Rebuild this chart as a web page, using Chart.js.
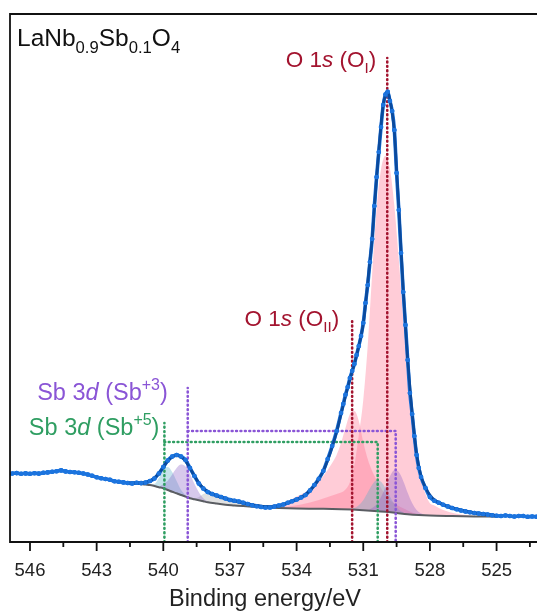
<!DOCTYPE html>
<html>
<head>
<meta charset="utf-8">
<script src="https://cdn.jsdelivr.net/npm/chart.js@4.4.1/dist/chart.umd.min.js"></script>
<style>
  html, body { margin: 0; padding: 0; background: #fff; }
  #wrap { width: 537px; height: 613px; position: relative; }
</style>
</head>
<body>
<div id="wrap"><canvas id="xpsChart"></canvas></div>
<script>
// measured spectrum (binding energy in eV, intensity in a.u.)
const measEnergy = [
  546.8, 546.6, 546.4, 546.2, 546.0, 545.8, 545.6, 545.4, 545.2, 545.0,
  544.8, 544.6, 544.4, 544.2, 544.0, 543.8, 543.6, 543.4, 543.2, 543.0,
  542.8, 542.6, 542.4, 542.2, 542.0, 541.8, 541.6, 541.4, 541.2, 541.0,
  540.8, 540.6, 540.4, 540.2, 540.0, 539.8, 539.6, 539.4, 539.2, 539.0,
  538.8, 538.6, 538.4, 538.2, 538.0, 537.8, 537.6, 537.4, 537.2, 537.0,
  536.8, 536.6, 536.4, 536.2, 536.0, 535.8, 535.6, 535.4, 535.2, 535.0,
  534.8, 534.6, 534.4, 534.2, 534.0, 533.8, 533.6, 533.4, 533.2, 533.0,
  532.8, 532.6, 532.4, 532.2, 532.0, 531.9, 531.8, 531.7, 531.6, 531.5,
  531.4, 531.3, 531.2, 531.1, 531.0, 530.9, 530.8, 530.7, 530.6, 530.5,
  530.4, 530.3, 530.2, 530.1, 530.0, 529.9, 529.8, 529.7, 529.6, 529.5,
  529.4, 529.3, 529.2, 529.1, 529.0, 528.9, 528.8, 528.7, 528.6, 528.5,
  528.4, 528.2, 528.0, 527.8, 527.6, 527.4, 527.2, 527.0, 526.8, 526.6,
  526.4, 526.2, 526.0, 525.8, 525.6, 525.4, 525.2, 525.0, 524.8, 524.6,
  524.4, 524.2, 524.0, 523.8, 523.6, 523.4, 523.2
];
const measCounts = [
  68.5, 68.9, 68.3, 68.6, 68.2, 68.8, 68.4, 69.2, 69.6, 70.3,
  70.8, 71.6, 70.6, 70.0, 69.8, 69.2, 68.5, 67.5, 66.2, 64.8,
  63.8, 63.0, 62.2, 60.8, 60.2, 59.6, 59.0, 58.6, 59.2, 58.9,
  59.5, 61.0, 63.5, 68.5, 75.0, 81.5, 85.5, 87.0, 85.5, 82.0,
  74.0, 66.0, 58.5, 53.5, 50.0, 48.0, 46.5, 45.0, 43.5, 42.0,
  41.2, 40.5, 39.2, 38.0, 36.7, 35.7, 35.0, 34.5, 34.5, 35.5,
  36.5, 37.5, 39.2, 40.8, 42.5, 44.5, 47.0, 51.5, 57.0, 63.3,
  71.0, 83.0, 96.0, 111, 129, 138, 147.3, 155, 164, 171,
  178, 187, 196, 206, 219, 239, 257, 280, 303, 336,
  365, 390, 415, 437, 447.5, 450.2, 441, 431, 412, 369,
  332, 289, 250, 217, 182, 149, 128, 106, 87, 74,
  65, 54, 45, 41.2, 39.2, 37.2, 35.6, 34.0, 32.7, 31.5,
  30.6, 29.8, 29.0, 28.5, 28.0, 27.5, 26.8, 26.3, 26.0, 26.5,
  26.0, 25.5, 26.0, 26.0, 25.2, 25.5, 25.3
];

// fitted envelope
const fitEnergy = [
  541.6, 541.4, 541.2, 541.0, 540.8, 540.6, 540.4, 540.2, 540.0, 539.8,
  539.6, 539.4, 539.2, 539.0, 538.8, 538.6, 538.4, 538.2, 538.0, 537.8,
  537.6, 537.4, 537.2, 537.0, 536.8, 536.6, 536.4, 536.2, 536.0, 535.8,
  535.6, 535.4, 535.2, 535.0, 534.8, 534.6, 534.4, 534.2, 534.0, 533.8,
  533.6, 533.4, 533.2, 533.0, 532.8, 532.6, 532.4, 532.2, 532.0, 531.8,
  531.6, 531.4, 531.2, 531.1, 531.0, 530.9, 530.8, 530.7, 530.6, 530.5,
  530.4, 530.3, 530.2, 530.1, 530.0, 529.9, 529.8, 529.7, 529.6, 529.5,
  529.4, 529.3, 529.2, 529.1, 529.0, 528.9, 528.8, 528.7, 528.6, 528.4,
  528.2, 528.0, 527.8, 527.6, 527.4, 527.2, 527.0, 526.8, 526.6, 526.4,
  526.2, 526.0, 525.8, 525.6, 525.4, 525.2, 525.0
];
const fitCounts = [
  59, 59, 59, 59, 59.5, 61, 64, 68.5, 75, 81,
  85, 86.5, 85, 81, 74, 66, 59, 54, 50.5, 48,
  46.2, 44.8, 43.5, 42.3, 41.2, 40.2, 39.2, 38.2, 37.3, 36.5,
  35.9, 35.5, 35.4, 35.7, 36.4, 37.5, 39, 40.7, 42.5, 44.8,
  47.5, 51.5, 56.5, 63, 71, 82, 95, 110, 128, 146,
  163, 178, 196, 206, 218, 237, 259, 281, 303, 334,
  364, 392, 417, 437, 447, 450, 442, 430, 410, 372,
  334, 292, 252, 216, 182, 154, 129, 107, 88, 66,
  54.5, 47, 42.2, 39.2, 37.2, 35.6, 34.2, 33, 31.8, 30.8,
  30, 29.2, 28.6, 28, 27.5, 27, 26.6
];

// background
const bgEnergy = [
  541.6, 541.2, 540.8, 540.6, 540.4, 540.2, 540.0, 539.8, 539.6, 539.4,
  539.2, 539.0, 538.8, 538.6, 538.4, 538.2, 538.0, 537.6, 537.2, 536.8,
  536.4, 536.0, 535.6, 535.2, 534.8, 534.4, 534.0, 533.0, 532.0, 531.5,
  531.0, 530.5, 530.0, 529.5, 529.0, 528.5, 528.0, 527.0, 526.0, 525.0
];
const bgCounts = [
  58.8, 58.2, 57.4, 57.0, 56.0, 54.8, 53.7, 52.0, 50.2, 48.7,
  47.0, 45.4, 43.7, 42.7, 41.7, 40.7, 39.7, 38.4, 37.3, 36.6,
  35.9, 35.3, 34.8, 34.4, 34.0, 33.7, 33.5, 33.2, 32.8, 32.4,
  31.8, 31.1, 30.2, 29.0, 27.8, 27.0, 26.5, 26.0, 25.6, 25.3
];

// O 1s components
const oIEnergy = [
  535.0, 534.6, 534.2, 533.8, 533.4, 533.0, 532.6, 532.2, 531.8, 531.6,
  531.4, 531.2, 531.0, 530.8, 530.6, 530.4, 530.2, 530.0, 529.8, 529.6,
  529.4, 529.2, 529.0, 528.8, 528.6, 528.4, 528.2, 528.0, 527.8, 527.6,
  527.4, 527.2, 527.0, 526.6, 526.2, 525.8
];
const oICounts = [
  34.4, 35, 36, 37.5, 39.5, 42, 45, 48, 52.5, 60,
  77, 107, 142, 196, 268, 333, 372.7, 386.2, 373.3, 336.3,
  282.2, 223.2, 168, 121.4, 86.6, 63, 48, 38.8, 36.5, 34,
  32, 30.5, 29.2, 27.5, 26.5, 25.7
];
const oIIEnergy = [
  534.8, 534.6, 534.4, 534.2, 534.0, 533.8, 533.6, 533.4, 533.2, 533.0,
  532.8, 532.6, 532.4, 532.2, 532.0, 531.8, 531.6, 531.4, 531.2, 531.0,
  530.8, 530.6, 530.4, 530.2, 530.0, 529.8, 529.6, 529.4, 529.2, 529.0,
  528.8, 528.6, 528.4
];
const oIICounts = [
  35.5, 38.5, 41, 43, 45.5, 47.5, 50, 52.5, 56, 61,
  66, 72, 79, 87, 99, 114, 128, 131, 121, 100,
  83, 71, 62, 54, 47, 42, 38.5, 36, 33.7, 31.5,
  29.5, 28, 27
];

// Sb 3d components (3d3/2 near 539 eV, 3d5/2 near 530 eV)
const sb5HighEnergy = [540.8, 540.6, 540.4, 540.2, 540.0, 539.8, 539.6, 539.4, 539.2, 539.0, 538.8, 538.6];
const sb5HighCounts = [57.4, 57.4, 58, 64, 72.5, 75, 70, 61, 52, 47, 44, 42.7];
const sb3HighEnergy = [540.2, 540.0, 539.8, 539.6, 539.4, 539.2, 539.0, 538.8, 538.6, 538.4, 538.2, 538.0, 537.8, 537.6];
const sb3HighCounts = [54.8, 58, 61.3, 67.5, 74, 77.4, 75.4, 68, 58.2, 49.7, 43.7, 40.7, 39, 38.4];
const sb5LowEnergy = [531.6, 531.4, 531.2, 531.0, 530.8, 530.6, 530.4, 530.2, 530.0, 529.8, 529.6, 529.4, 529.2, 529.0];
const sb5LowCounts = [32.4, 33.9, 36.7, 41.8, 49.4, 57.2, 61.7, 60.3, 53.9, 45.4, 37.9, 32.4, 29.6, 27.8];
const sb3LowEnergy = [530.8, 530.6, 530.4, 530.2, 530.0, 529.8, 529.6, 529.4, 529.2, 529.0, 528.8, 528.6, 528.4, 528.2];
const sb3LowCounts = [31.5, 33.9, 37.7, 44.9, 55, 65.7, 71.7, 69.9, 61.1, 49.3, 39, 32.1, 28.8, 26.7];

// broad grey component
const greyEnergy = [538.8, 538.6, 538.4, 538.2, 538.0, 537.8, 537.6, 537.4, 537.2, 537.0, 536.6, 536.2, 535.8, 535.4, 535.2];
const greyCounts = [43.7, 43.5, 45, 48, 49, 47.5, 46, 44.5, 43, 41.5, 39.5, 37.5, 35.5, 34.6, 34.4];

// peak position markers
const oLines = [529.92, 531.5];
const oTops = [484, 224];
const sb3Lines = [538.9, 529.54];
const sb3Top = 154, sb3Bar = 111;
const sb5Lines = [539.95, 530.35];
const sb5Top = 119, sb5Bar = 100;

// axis ticks
const majorTicks = [546, 543, 540, 537, 534, 531, 528, 525];
const minorTicks = [544.5, 541.5, 538.5, 535.5, 532.5, 529.5, 526.5, 523.5];

const FONT = '"Liberation Sans", Arial, Helvetica, sans-serif';
const RED = '#a3142f', PURPLE = '#8a55d6', GREEN = '#2f9e62';

const pts = (xs, ys) => xs.map((x, i) => ({ x: x, y: ys[i] }));

const area = (xs, ys, color, order) => ({
  data: pts(xs, ys), fill: 'origin', backgroundColor: color,
  borderColor: 'rgba(0,0,0,0)', borderWidth: 0, pointRadius: 0,
  cubicInterpolationMode: 'monotone', order: order
});

const dotted = (data, color) => ({
  data: data, borderColor: color, borderWidth: 2.6, borderDash: [0.8, 3.6],
  borderCapStyle: 'round', pointRadius: 0, fill: false, order: 5
});

function drawRich(ctx, parts, x, y, size, color, align) {
  const fontFor = (kind) => {
    const s = (kind === 'sub' || kind === 'sup') ? size * 0.68 : size;
    return (kind === 'i' ? 'italic ' : '') + s + 'px ' + FONT;
  };
  let total = 0;
  parts.forEach(p => { ctx.font = fontFor(p[1]); total += ctx.measureText(p[0]).width; });
  let cx = align === 'right' ? x - total : x;
  ctx.fillStyle = color;
  ctx.textBaseline = 'alphabetic';
  ctx.textAlign = 'left';
  parts.forEach(p => {
    ctx.font = fontFor(p[1]);
    let dy = 0;
    if (p[1] === 'sub') dy = size * 0.27;
    if (p[1] === 'sup') dy = -size * 0.42;
    ctx.fillText(p[0], cx, y + dy);
    cx += ctx.measureText(p[0]).width;
  });
}

const decorations = {
  id: 'decorations',
  afterDatasetsDraw(chart) {
    // put the measured markers back on top of the fit line
    const ctx = chart.ctx;
    ctx.save();
    ctx.beginPath();
    ctx.rect(chart.chartArea.left, chart.chartArea.top, chart.chartArea.width, chart.chartArea.height);
    ctx.clip();
    chart.getDatasetMeta(measIndex).data.forEach(p => p.draw(ctx, chart.chartArea));
    ctx.restore();
  },
  afterDraw(chart) {
    const ctx = chart.ctx;
    const a = chart.chartArea;
    const xs = chart.scales.x, ys = chart.scales.y;
    ctx.save();
    ctx.strokeStyle = '#111';
    ctx.lineWidth = 1.8;
    ctx.beginPath();
    ctx.moveTo(a.right + 2, a.top);
    ctx.lineTo(a.left, a.top);
    ctx.lineTo(a.left, a.bottom);
    ctx.lineTo(a.right + 2, a.bottom);
    ctx.stroke();

    ctx.beginPath();
    majorTicks.forEach(v => { const px = xs.getPixelForValue(v); ctx.moveTo(px, a.bottom); ctx.lineTo(px, a.bottom + 9); });
    minorTicks.forEach(v => { const px = xs.getPixelForValue(v); ctx.moveTo(px, a.bottom); ctx.lineTo(px, a.bottom + 5); });
    ctx.stroke();

    ctx.fillStyle = '#222';
    ctx.font = '18.5px ' + FONT;
    ctx.textAlign = 'center';
    ctx.textBaseline = 'middle';
    majorTicks.forEach(v => ctx.fillText(String(v), xs.getPixelForValue(v), a.bottom + 29));
    ctx.font = '23.5px ' + FONT;
    ctx.fillText('Binding energy/eV', 265, a.bottom + 58);

    drawRich(ctx, [['LaNb', ''], ['0.9', 'sub'], ['Sb', ''], ['0.1', 'sub'], ['O', ''], ['4', 'sub']],
      a.left + 7, a.top + 32, 24.5, '#111', 'left');
    drawRich(ctx, [['O 1', ''], ['s', 'i'], [' (O', ''], ['I', 'sub'], [')', '']],
      xs.getPixelForValue(oLines[0]) - 11, ys.getPixelForValue(oTops[0]) + 9, 22.5, RED, 'right');
    drawRich(ctx, [['O 1', ''], ['s', 'i'], [' (O', ''], ['II', 'sub'], [')', '']],
      xs.getPixelForValue(oLines[1]) - 13, ys.getPixelForValue(oTops[1]) + 8, 22.5, RED, 'right');
    drawRich(ctx, [['Sb 3', ''], ['d', 'i'], [' (Sb', ''], ['+3', 'sup'], [')', '']],
      xs.getPixelForValue(sb3Lines[0]) - 20, ys.getPixelForValue(sb3Top) + 12, 23.5, PURPLE, 'right');
    drawRich(ctx, [['Sb 3', ''], ['d', 'i'], [' (Sb', ''], ['+5', 'sup'], [')', '']],
      xs.getPixelForValue(sb5Lines[0]) - 5, ys.getPixelForValue(sb5Top) + 12, 23.5, GREEN, 'right');
    ctx.restore();
  }
};

const datasets = [
  area(greyEnergy, greyCounts, 'rgba(120,120,120,0.22)', 20),
  area(oIEnergy, oICounts, 'rgba(255,110,140,0.35)', 19),
  area(oIIEnergy, oIICounts, 'rgba(255,110,140,0.35)', 18),
  area(sb5HighEnergy, sb5HighCounts, 'rgba(90,175,200,0.35)', 17),
  area(sb5LowEnergy, sb5LowCounts, 'rgba(90,175,200,0.35)', 17),
  area(sb3HighEnergy, sb3HighCounts, 'rgba(140,100,200,0.35)', 16),
  area(sb3LowEnergy, sb3LowCounts, 'rgba(140,100,200,0.35)', 16),
  {
    data: pts(bgEnergy, bgCounts), fill: 'origin', backgroundColor: '#fff',
    borderColor: '#5a5d62', borderWidth: 2, pointRadius: 0,
    cubicInterpolationMode: 'monotone', order: 10
  },
  dotted([{ x: oLines[0], y: 0 }, { x: oLines[0], y: oTops[0] }], RED),
  dotted([{ x: oLines[1], y: 0 }, { x: oLines[1], y: oTops[1] }], RED),
  dotted([{ x: sb3Lines[0], y: 0 }, { x: sb3Lines[0], y: sb3Top }], PURPLE),
  dotted([{ x: sb3Lines[0], y: sb3Bar }, { x: sb3Lines[1], y: sb3Bar }, { x: sb3Lines[1], y: 0 }], PURPLE),
  dotted([{ x: sb5Lines[0], y: 0 }, { x: sb5Lines[0], y: sb5Top }], GREEN),
  dotted([{ x: sb5Lines[0], y: sb5Bar }, { x: sb5Lines[1], y: sb5Bar }, { x: sb5Lines[1], y: 0 }], GREEN),
  {
    data: pts(measEnergy, measCounts), borderColor: '#1c74de', borderWidth: 3.6,
    pointRadius: 2.3, pointBackgroundColor: '#1c74de', pointBorderWidth: 0,
    fill: false, cubicInterpolationMode: 'monotone', order: 3
  },
  {
    data: pts(fitEnergy, fitCounts), borderColor: '#0b4a9c', borderWidth: 2.8,
    pointRadius: 0, fill: false, cubicInterpolationMode: 'monotone', order: 2
  }
];
const measIndex = datasets.length - 2;

new Chart(document.getElementById('xpsChart'), {
  type: 'line',
  data: { datasets: datasets },
  options: {
    responsive: true,
    maintainAspectRatio: false,
    animation: false,
    layout: { autoPadding: false, padding: { left: 10, top: 14, right: 0, bottom: 71 } },
    plugins: { legend: { display: false }, tooltip: { enabled: false } },
    scales: {
      x: { type: 'linear', reverse: true, min: 523.18, max: 546.9, display: false },
      y: { min: 0, max: 528, display: false }
    }
  },
  plugins: [decorations]
});
</script>
</body>
</html>
